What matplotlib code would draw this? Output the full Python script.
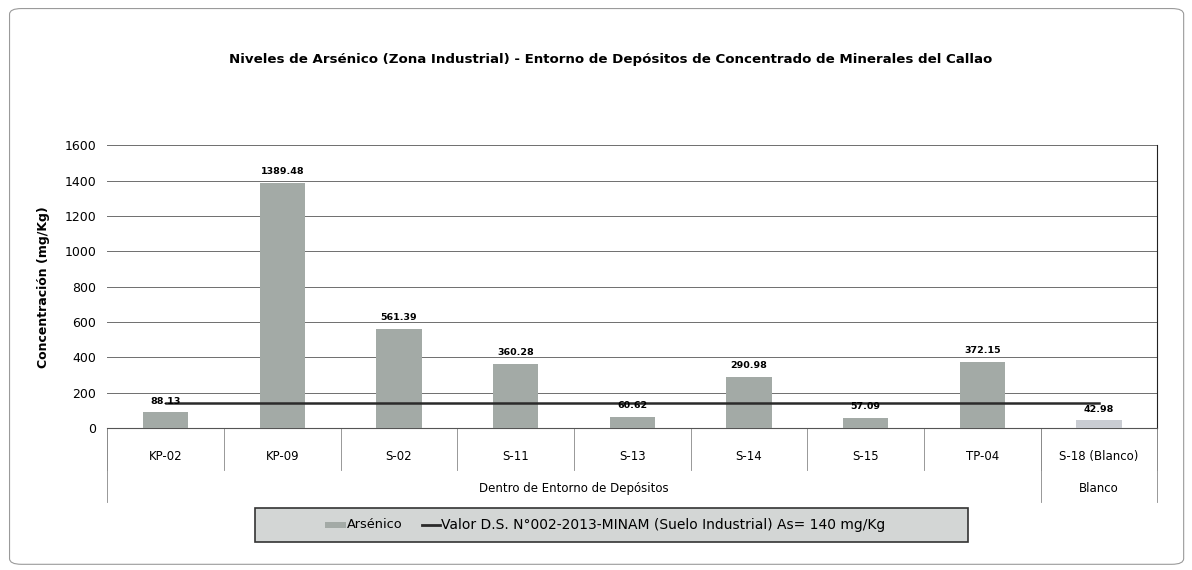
import matplotlib
matplotlib.use("Agg")
import matplotlib.pyplot as plt
from matplotlib.patches import FancyBboxPatch, Rectangle
from matplotlib.lines import Line2D

plt.rcParams['font.family'] = ['DejaVu Sans']

categories = ['KP-02', 'KP-09', 'S-02', 'S-11', 'S-13', 'S-14', 'S-15', 'TP-04', 'S-18 (Blanco)']
arsenico = [88.13, 1389.48, 561.39, 360.28, 60.62, 290.98, 57.09, 372.15, 42.98]
groups = [('Dentro de Entorno de Depósitos', 8), ('Blanco', 1)]
limite = 140

bar_colors = ['#a3aaa6'] * 8 + ['#c9ccd2']

fig = plt.figure(figsize=(11.92, 5.70), dpi=100)
fig.patches.append(FancyBboxPatch((0.008, 0.01), 0.985, 0.975, boxstyle='round,pad=0,rounding_size=0.01',
                                  transform=fig.transFigure, fill=False, ec='#9a9a9a', lw=0.8))

ax = fig.add_axes([0.09, 0.249, 0.881, 0.496])
x = range(len(categories))
bars = ax.bar(x, arsenico, width=0.39, color=bar_colors, zorder=3)
for b, v in zip(bars, arsenico):
    ax.annotate('{:.2f}'.format(v), xy=(b.get_x() + b.get_width() / 2, v), xytext=(0, 5),
                textcoords='offset points', ha='center', va='bottom', fontsize=6.8,
                fontweight='bold', zorder=5)

ax.plot([0, len(categories) - 1], [limite, limite], color='#2a2a2a', lw=1.8, zorder=4)

ax.set_xlim(-0.5, len(categories) - 0.5)
ax.set_ylim(0, 1600)
ax.set_yticks(range(0, 1601, 200))
ax.tick_params(axis='y', labelsize=9, length=0, pad=8)
ax.yaxis.grid(True, color='#6e6e6e', lw=0.7, zorder=0)
ax.set_xticks([])
for s in ['top', 'left']:
    ax.spines[s].set_visible(False)
ax.spines['right'].set_color('#222222')
ax.spines['bottom'].set_color('#555555')
ax.set_ylabel('Concentración (mg/Kg)', fontsize=9, fontweight='bold', labelpad=10)

# category labels and separators
tr = ax.get_xaxis_transform()
for i, c in enumerate(categories):
    ax.text(i, -0.1, c, transform=tr, ha='center', va='center', fontsize=8.5)
for i in range(len(categories) + 1):
    ax.add_line(Line2D([i - 0.5, i - 0.5], [0, -0.15], transform=tr, color='#888888', lw=0.6, clip_on=False))
start = 0
ax.add_line(Line2D([-0.5, -0.5], [0, -0.26], transform=tr, color='#888888', lw=0.6, clip_on=False))
for name, n in groups:
    ax.text(start + (n - 1) / 2, -0.215, name, transform=tr, ha='center', va='center', fontsize=8.5)
    end = start + n - 0.5
    ax.add_line(Line2D([end, end], [0, -0.26], transform=tr, color='#888888', lw=0.6, clip_on=False))
    start += n

fig.text(0.512, 0.895, 'Niveles de Arsénico (Zona Industrial) - Entorno de Depósitos de Concentrado de Minerales del Callao',
         ha='center', va='center', fontsize=9.6, fontweight='bold')

# legend
fig.patches.append(Rectangle((0.214, 0.05), 0.598, 0.058, transform=fig.transFigure,
                             fc='#d3d6d5', ec='#333333', lw=1.2))
fig.patches.append(Rectangle((0.273, 0.074), 0.017, 0.011, transform=fig.transFigure,
                             fc='#a3aaa6', ec='none'))
fig.text(0.291, 0.079, 'Arsénico', ha='left', va='center', fontsize=9.3)
fig.add_artist(Line2D([0.354, 0.369], [0.079, 0.079], transform=fig.transFigure, color='#2a2a2a', lw=2))
fig.text(0.37, 0.079, 'Valor D.S. N°002-2013-MINAM (Suelo Industrial) As= 140 mg/Kg',
         ha='left', va='center', fontsize=10)

fig.savefig('out.png', dpi=100)
